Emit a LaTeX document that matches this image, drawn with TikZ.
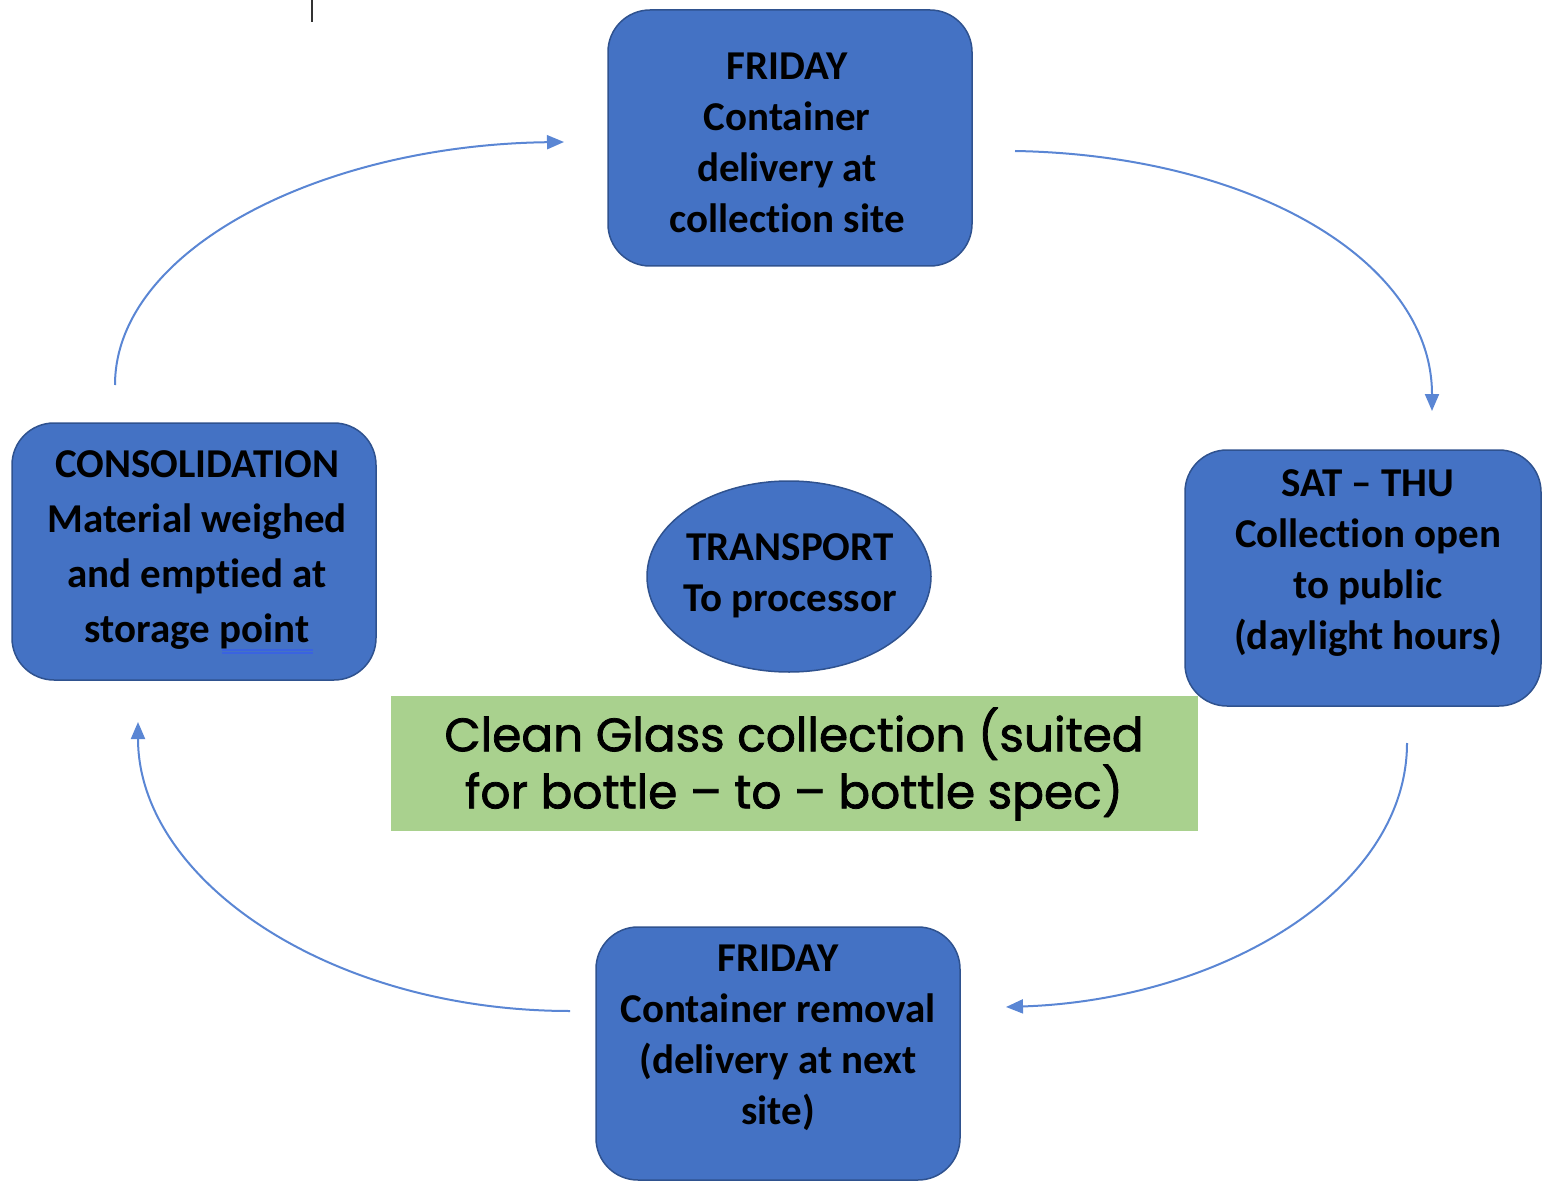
\documentclass[tikz,border=0pt]{standalone}
\usepackage{fontspec}
\setmainfont{Carlito}[Ligatures={NoCommon}]
\newfontfamily\greenfont{Poppins}[FakeBold=1.6]
\usetikzlibrary{arrows.meta,shapes.geometric}
\definecolor{boxblue}{HTML}{4472C4}
\definecolor{boxedge}{HTML}{2F528F}
\definecolor{boxgreen}{HTML}{A9D18E}
\definecolor{arrowblue}{HTML}{5A86D4}
\definecolor{spellblue}{HTML}{3A63E0}
\tikzset{
  stepbox/.style={draw=boxedge, line width=1.5pt, fill=boxblue, rounded corners=42pt, inner sep=0pt},
  steptext/.style={align=center, font=\fontsize{41}{51}\selectfont\bfseries, text=black, inner sep=0pt},
  cyclearrow/.style={draw=arrowblue, line width=2pt, -{Triangle[length=17pt,width=14pt]}},
}
\begin{document}
\begin{tikzpicture}[x=1pt,y=-1pt]
\useasboundingbox (0,0) rectangle (1542,1182);
% small mark
\draw[draw=black!80, line width=2.5pt] (312,0) -- (312,22);
% boxes
\node[stepbox, minimum width=364pt, minimum height=256pt] (top) at (790,138) {};
\node[stepbox, minimum width=356pt, minimum height=256pt] (right) at (1363,578) {};
\node[stepbox, minimum width=364pt, minimum height=257pt] (left) at (194,551.5) {};
\node[stepbox, minimum width=364pt, minimum height=253pt] (bottom) at (778,1053.5) {};
\node[draw=boxedge, line width=1.5pt, fill=boxblue, ellipse, minimum width=284pt, minimum height=191pt, inner sep=0pt] (transport) at (789,576.5) {};
% texts
\node[steptext] (toptext) at (787,143) {FRIDAY\\Container\\delivery at\\collection site};
\node[steptext] (righttext) at (1368,563) {SAT – THU\\Collection open\\to public\\(daylight hours)};
\node[steptext, font=\fontsize{41}{55}\selectfont\bfseries] (lefttext) at (197,550) {CONSOLIDATION\\Material weighed\\and emptied at\\storage point};
\node[steptext] (bottomtext) at (778,1038) {FRIDAY\\Container removal\\(delivery at next\\site)};
\node[steptext] (transporttext) at (790,576) {TRANSPORT\\To processor};
% spell-check underline
\coordinate (ul1) at (222,650);
\coordinate (ul2) at (313,650);
\draw[spellblue, line width=1.2pt] (ul1) -- (ul2);
\draw[spellblue, line width=1.2pt] ([yshift=-3pt]ul1) -- ([yshift=-3pt]ul2);
% green caption
\node[fill=boxgreen, minimum width=807pt, minimum height=135pt, inner sep=0pt] (caption) at (794.5,763.5) {};
\node[align=center, font=\greenfont\fontsize{47}{57}\selectfont, inner sep=0pt] (captiontext) at (794,764) {Clean Glass collection (suited\\for bottle – to – bottle spec)};
% arrows
\coordinate (a1s) at (1015,151);
\coordinate (a1e) at (1432,411);
\coordinate (a2s) at (1407,743);
\coordinate (a2e) at (1006,1007);
\coordinate (a3s) at (570,1011);
\coordinate (a3e) at (138,722);
\coordinate (a4s) at (115,385);
\coordinate (a4e) at (564,142);
\draw[cyclearrow] (a1s) .. controls (1250,155) and (1432,260) .. (a1e);
\draw[cyclearrow] (a2s) .. controls (1407,890) and (1220,1000) .. (a2e);
\draw[cyclearrow] (a3s) .. controls (330,1011) and (138,880) .. (a3e);
\draw[cyclearrow] (a4s) .. controls (115,250) and (320,145) .. (a4e);
\end{tikzpicture}
\end{document}
